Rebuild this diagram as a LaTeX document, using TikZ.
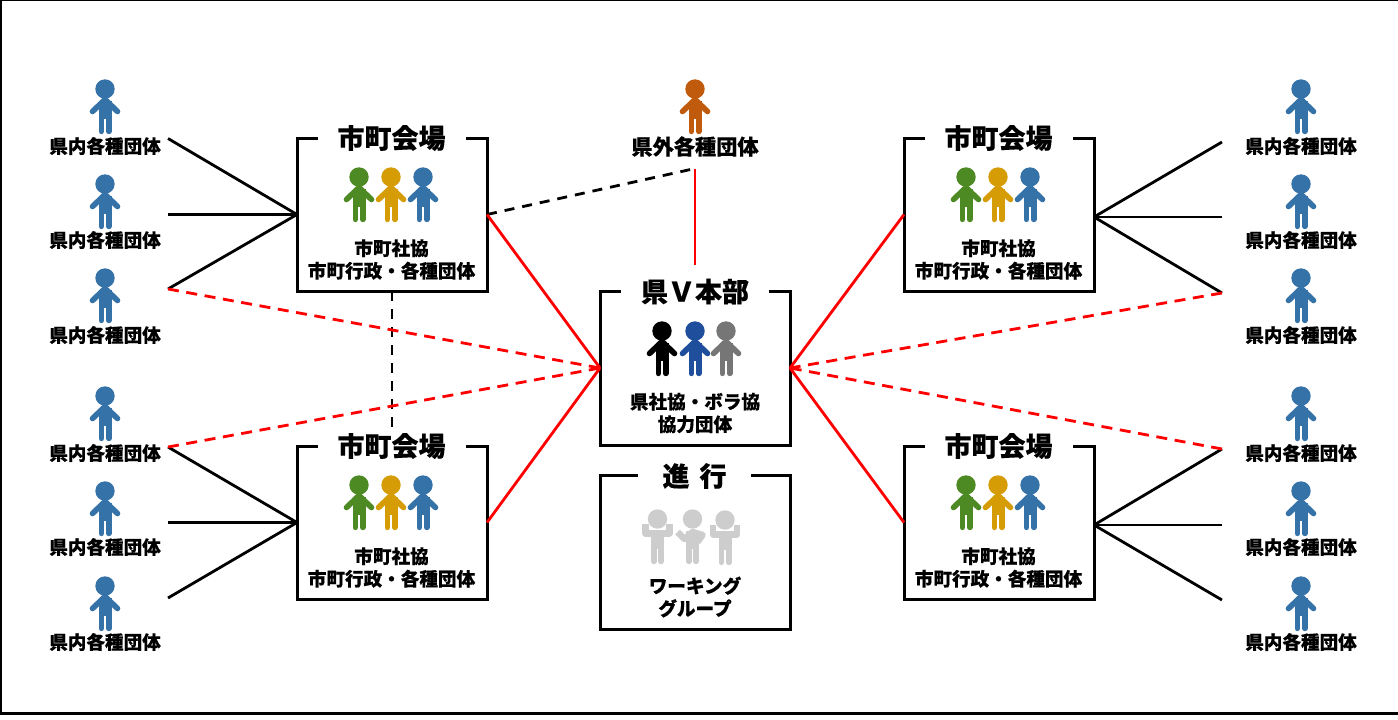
\documentclass[tikz,border=0pt]{standalone}
\usepackage{fontspec}
\setmainfont{Noto Sans CJK JP}[BoldFeatures={FakeBold=0.4}]
\usepackage{xcolor}
\definecolor{bluep}{HTML}{3572A8}
\definecolor{greenp}{HTML}{4E8A24}
\definecolor{goldp}{HTML}{D69C06}
\definecolor{orangep}{HTML}{C05A0C}
\definecolor{navyp}{HTML}{1F4E9C}
\definecolor{grayp}{HTML}{767676}
\definecolor{lightp}{HTML}{CDCDCD}
\newcommand{\personbody}[1]{
    \fill[#1] (0,0) circle (9.7);
    \fill[#1] (-6.5,12) rectangle (6.5,30);
    \draw[#1, line width=5.6, line cap=round] (-3.7,25) -- (-3.7,42.4);
    \draw[#1, line width=5.6, line cap=round] (3.7,25) -- (3.7,42.4);
}
\tikzset{
    person/.pic={\personbody{#1}
        \draw[#1, line width=5.6, line cap=round, line join=round] (-12.5,22.5) -- (0,10.5) -- (12.5,22.5);},
    personup/.pic={\personbody{lightp}
        \draw[lightp, line width=6.5, line join=round] (-12,5) -- (-12,14.5) -- (12,14.5) -- (12,5);},
    personhip/.pic={\personbody{lightp}
        \draw[lightp, line width=6.5, line join=round] (-15,13) -- (-8,20) -- (0,13) -- (10,16) -- (5,23);},
    box/.style={draw, line width=3, minimum width=190, minimum height=153, inner sep=0, outer sep=0},
    boxtitle/.style={fill=white, inner sep=0, minimum height=12, font=\fontsize{27}{27}\selectfont\bfseries},
    lbl/.style={inner sep=0, align=center, font=\fontsize{18.6}{22.6}\selectfont\bfseries},
    solidk/.style={line width=2.8},
    dashk/.style={line width=2.8, dash pattern=on 10 off 8},
    solidr/.style={line width=2.8, red},
    dashr/.style={line width=2.8, red, dash pattern=on 11 off 7.6},
}
\begin{document}
\begin{tikzpicture}[x=1pt, y=-1pt]
    \useasboundingbox (0,0) rectangle (1398,720);
    \fill[white] (0,0) rectangle (1398,720);
    % frame
    \draw[line width=1.5] (0,0.5) -- (1398,0.5);
    \draw[line width=2] (1,0) -- (1,714);
    \draw[line width=3] (0,713.5) -- (1398,713.5);

    % boxes
    \node[box] (cityTL) at (392,214.5) {};
    \node[box] (cityBL) at (392,522.5) {};
    \node[box] (cityTR) at (999,214.5) {};
    \node[box] (cityBR) at (999,522.5) {};
    \node[box, minimum height=154] (hq) at (695,368) {};
    \node[box, minimum height=154] (prog) at (695,552) {};

    % free ends
    \coordinate (leftA) at (168,138.5);
    \coordinate (leftB) at (168,214.5);
    \coordinate (leftC) at (168,289);
    \coordinate (leftD) at (168,447);
    \coordinate (leftE) at (168,522.5);
    \coordinate (leftF) at (168,598);
    \coordinate (rightA) at (1222,142);
    \coordinate (rightB) at (1222,217);
    \coordinate (rightC) at (1222,293);
    \coordinate (rightD) at (1222,449);
    \coordinate (rightE) at (1222,525);
    \coordinate (rightF) at (1222,600);
    \coordinate (hubTR) at (1094,217);
    \coordinate (hubBR) at (1094,525);
    \coordinate (outer) at (695,168.5);
    \coordinate (hqTop) at (695,265);

    % connectors
    \draw[solidk] (leftA) -- (cityTL.west);
    \draw[solidk] (leftB) -- (cityTL.west);
    \draw[solidk] (leftC) -- (cityTL.west);
    \draw[solidk] (leftD) -- (cityBL.west);
    \draw[solidk] (leftE) -- (cityBL.west);
    \draw[solidk] (leftF) -- (cityBL.west);
    \draw[solidk] (rightA) -- (hubTR);
    \draw[solidk] (rightB) -- (hubTR);
    \draw[solidk] (rightC) -- (hubTR);
    \draw[solidk] (rightD) -- (hubBR);
    \draw[solidk] (rightE) -- (hubBR);
    \draw[solidk] (rightF) -- (hubBR);
    \draw[dashk] (cityTL.east) -- (outer);
    \draw[dashk] (cityTL.south) -- (cityBL.north);
    \draw[solidr] (outer) -- (hqTop);
    \draw[solidr] (cityTL.east) -- (hq.west);
    \draw[solidr] (cityBL.east) -- (hq.west);
    \draw[solidr] (cityTR.west) -- (hq.east);
    \draw[solidr] (cityBR.west) -- (hq.east);
    \draw[dashr] (leftC) -- (hq.west);
    \draw[dashr] (leftD) -- (hq.west);
    \draw[dashr] (rightC) -- (hq.east);
    \draw[dashr] (rightD) -- (hq.east);

    % box titles
    \node[boxtitle, minimum width=148] (titleTL) at (391.5,138) {市町会場};
    \node[boxtitle, minimum width=148] (titleBL) at (391.5,446) {市町会場};
    \node[boxtitle, minimum width=148] (titleTR) at (998.5,138) {市町会場};
    \node[boxtitle, minimum width=148] (titleBR) at (998.5,446) {市町会場};
    \node[boxtitle, minimum width=148] (titleHQ) at (695,291.5) {県Ｖ本部};
    \node[boxtitle, minimum width=113] (titleProg) at (694.5,476) {進\hspace{10pt}行};

    % box texts
    \node[lbl] (textTL) at (391.5,259.5) {市町社協\\市町行政・各種団体};
    \node[lbl] (textBL) at (391.5,567.5) {市町社協\\市町行政・各種団体};
    \node[lbl] (textTR) at (998.5,259.5) {市町社協\\市町行政・各種団体};
    \node[lbl] (textBR) at (998.5,567.5) {市町社協\\市町行政・各種団体};
    \node[lbl] (textHQ) at (695,413) {県社協・ボラ協\\協力団体};
    \node[lbl] (textProg) at (695,597) {ワーキング\\グループ};

    % people in the boxes
    \pic at (359,177) {person=greenp};
    \pic at (391,177) {person=goldp};
    \pic at (423,177) {person=bluep};
    \pic at (359,485) {person=greenp};
    \pic at (391,485) {person=goldp};
    \pic at (423,485) {person=bluep};
    \pic at (966,177) {person=greenp};
    \pic at (998,177) {person=goldp};
    \pic at (1030,177) {person=bluep};
    \pic at (966,485) {person=greenp};
    \pic at (998,485) {person=goldp};
    \pic at (1030,485) {person=bluep};
    \pic at (662,331) {person=black};
    \pic at (695,331) {person=navyp};
    \pic at (726,331) {person=grayp};
    \pic at (657.5,519) {personup};
    \pic at (692.5,519) {personhip};
    \pic at (725,520) {personup};

    % outside people, left
    \pic at (105,89) {person=bluep};
    \pic at (105,184) {person=bluep};
    \pic at (105,278) {person=bluep};
    \pic at (105,396) {person=bluep};
    \pic at (105,491) {person=bluep};
    \pic at (105,586) {person=bluep};
    \node[lbl] (groupA) at (105,146) {県内各種団体};
    \node[lbl] (groupB) at (105,240) {県内各種団体};
    \node[lbl] (groupC) at (105,335) {県内各種団体};
    \node[lbl] (groupD) at (105,453) {県内各種団体};
    \node[lbl] (groupE) at (105,547) {県内各種団体};
    \node[lbl] (groupF) at (105,642) {県内各種団体};

    % outside people, right
    \pic at (1301,89) {person=bluep};
    \pic at (1301,184) {person=bluep};
    \pic at (1301,278) {person=bluep};
    \pic at (1301,396) {person=bluep};
    \pic at (1301,491) {person=bluep};
    \pic at (1301,586) {person=bluep};
    \node[lbl] (groupG) at (1301,146) {県内各種団体};
    \node[lbl] (groupH) at (1301,240) {県内各種団体};
    \node[lbl] (groupI) at (1301,335) {県内各種団体};
    \node[lbl] (groupJ) at (1301,453) {県内各種団体};
    \node[lbl] (groupK) at (1301,547) {県内各種団体};
    \node[lbl] (groupL) at (1301,642) {県内各種団体};

    % outside the prefecture
    \pic at (695,89) {person=orangep};
    \node[lbl, font=\fontsize{21.2}{21}\selectfont\bfseries] (groupOut) at (695,146.5) {県外各種団体};
\end{tikzpicture}
\end{document}
